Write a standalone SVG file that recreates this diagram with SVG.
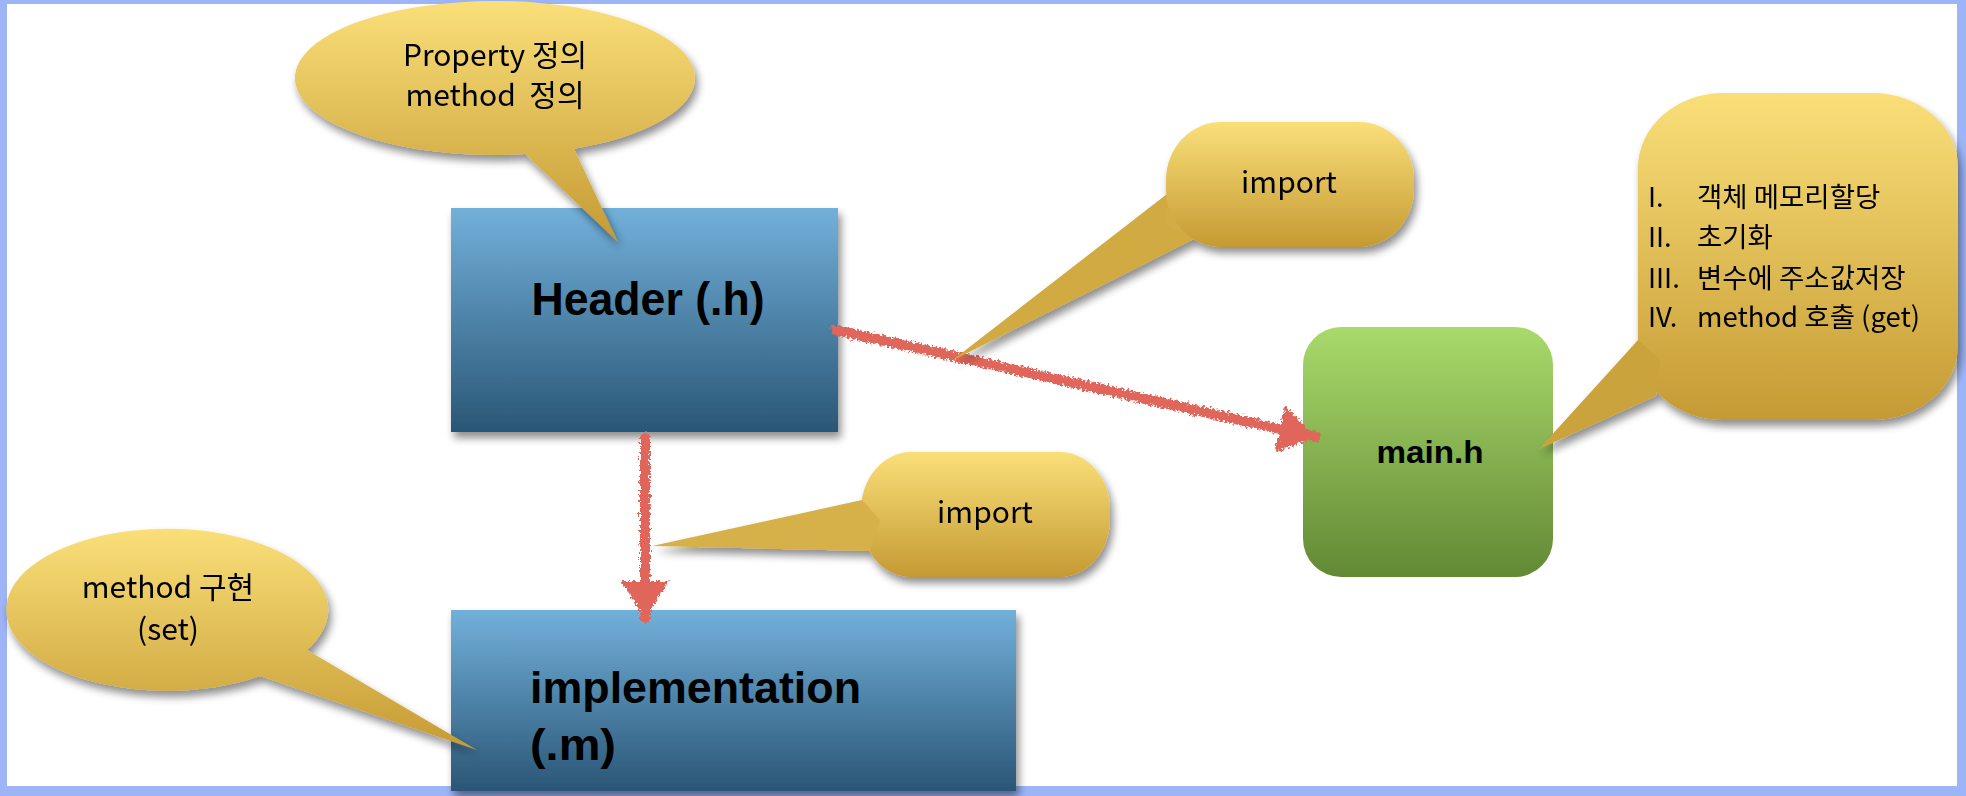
<svg xmlns="http://www.w3.org/2000/svg" width="1966" height="796" viewBox="0 0 1966 796">
  <style>
    .lbl { font-family: "Noto Sans CJK KR", "Liberation Sans", sans-serif; fill: #000; }
    .callout-text { font-size: 30px; text-anchor: middle; }
    .list-text { font-size: 27.5px; }
    .box-text { font-family: "Liberation Sans", "Noto Sans CJK KR", sans-serif; font-weight: bold; }
    .arrow { fill: none; stroke: #e0665c; stroke-width: 10; stroke-linecap: round; filter: url(#rough); }
  </style>
  <defs>
    <linearGradient id="gBlue" x1="0" y1="0" x2="0" y2="1">
      <stop offset="0" stop-color="#72b0da"/>
      <stop offset="1" stop-color="#2a5676"/>
    </linearGradient>
    <linearGradient id="gGreen" x1="0" y1="0" x2="0" y2="1">
      <stop offset="0" stop-color="#a9da6b"/>
      <stop offset="1" stop-color="#628935"/>
    </linearGradient>
    <linearGradient id="gGold" x1="0" y1="0" x2="0" y2="1">
      <stop offset="0" stop-color="#fadf79"/>
      <stop offset="1" stop-color="#c59a33"/>
    </linearGradient>
    <filter id="shadow" x="-10%" y="-10%" width="125%" height="130%">
      <feGaussianBlur in="SourceAlpha" stdDeviation="4"/>
      <feOffset dx="3" dy="6" result="b"/>
      <feComponentTransfer><feFuncA type="linear" slope="0.45"/></feComponentTransfer>
      <feMerge><feMergeNode/><feMergeNode in="SourceGraphic"/></feMerge>
    </filter>
    <filter id="rough" filterUnits="userSpaceOnUse" x="0" y="0" width="1966" height="796">
      <feTurbulence type="fractalNoise" baseFrequency="0.4" numOctaves="2" seed="3" result="n"/>
      <feDisplacementMap in="SourceGraphic" in2="n" scale="8" xChannelSelector="R" yChannelSelector="G"/>
    </filter>
    <marker id="head" viewBox="0 -26 40 52" refX="37" refY="0" markerWidth="40" markerHeight="52" markerUnits="userSpaceOnUse" orient="auto">
      <path d="M0,-24 L37,0 L0,24 Z" fill="#e0665c"/>
    </marker>
  </defs>

  <!-- frame -->
  <rect x="0" y="0" width="1966" height="796" fill="#9db5f7"/>
  <rect x="7" y="4" width="1950" height="782" fill="#ffffff"/>

  <!-- nodes -->
  <g id="header">
    <rect x="451" y="208" width="387" height="224" fill="url(#gBlue)" filter="url(#shadow)"/>
    <text class="lbl box-text" x="648" y="315" font-size="46" text-anchor="middle" textLength="233" lengthAdjust="spacingAndGlyphs">Header (.h)</text>
  </g>

  <g id="implementation">
    <rect x="451" y="610" width="565" height="181" fill="url(#gBlue)" filter="url(#shadow)"/>
    <text class="lbl box-text" x="530" y="703" font-size="44" textLength="331" lengthAdjust="spacingAndGlyphs">implementation</text>
    <text class="lbl box-text" x="530" y="760" font-size="44" textLength="86" lengthAdjust="spacingAndGlyphs">(.m)</text>
  </g>

  <g id="main">
    <rect x="1303" y="327" width="250" height="250" rx="38" ry="38" fill="url(#gGreen)"/>
    <text class="lbl box-text" x="1430" y="463" font-size="31" text-anchor="middle" textLength="107" lengthAdjust="spacingAndGlyphs">main.h</text>
  </g>

  <!-- connectors -->
  <g id="connectors">
    <path class="arrow" d="M836,330 L1316,437" marker-end="url(#head)"/>
    <path class="arrow" d="M645,438 L645,618" marker-end="url(#head)"/>
  </g>

  <!-- callouts -->
  <g id="callout-property" filter="url(#shadow)">
    <path d="M525,154.1 L618,242 L574,148.7 A200,77 0 1,0 525,154.1 Z" fill="url(#gGold)"/>
    <text class="lbl callout-text" x="495" y="66">Property 정의</text>
    <text class="lbl callout-text" x="495" y="106" xml:space="preserve">method  정의</text>
  </g>

  <g id="callout-import-top" filter="url(#shadow)">
    <path d="M1166,195 L953,360 L1196,238 L1230,200 Z" fill="#d3ac45"/>
    <rect x="1166" y="122" width="248" height="125" rx="55" ry="58" fill="url(#gGold)"/>
    <path d="M1166,195 L953,360 L1194,239 L1166,225 Z" fill="#d1aa42"/>
    <text class="lbl callout-text" x="1289" y="193">import</text>
  </g>

  <g id="callout-list" filter="url(#shadow)">
    <rect x="1638" y="93" width="320" height="327" rx="85" ry="75" fill="url(#gGold)"/>
    <path d="M1638,340 L1539,449 L1656,396 L1660,360 Z" fill="#cba33d"/>
    <text class="lbl list-text" x="1648" y="207">I.</text>
    <text class="lbl list-text" x="1697" y="207">객체 메모리할당</text>
    <text class="lbl list-text" x="1648" y="247">II.</text>
    <text class="lbl list-text" x="1697" y="247">초기화</text>
    <text class="lbl list-text" x="1648" y="288">III.</text>
    <text class="lbl list-text" x="1697" y="288">변수에 주소값저장</text>
    <text class="lbl list-text" x="1648" y="327">IV.</text>
    <text class="lbl list-text" x="1697" y="327">method 호출 (get)</text>
  </g>

  <g id="callout-import-bottom" filter="url(#shadow)">
    <rect x="861" y="452" width="249" height="125" rx="50" ry="58" fill="url(#gGold)"/>
    <path d="M862,500 L652,546 L870,551 L880,520 Z" fill="#d6b04a"/>
    <text class="lbl callout-text" x="985" y="523">import</text>
  </g>

  <g id="callout-method" filter="url(#shadow)">
    <path d="M307,650 L477,750 L260,676 A161,81 0 1,1 307,650 Z" fill="url(#gGold)"/>
    <text class="lbl callout-text" x="168" y="598">method 구현</text>
    <text class="lbl callout-text" x="168" y="640">(set)</text>
  </g>
</svg>
